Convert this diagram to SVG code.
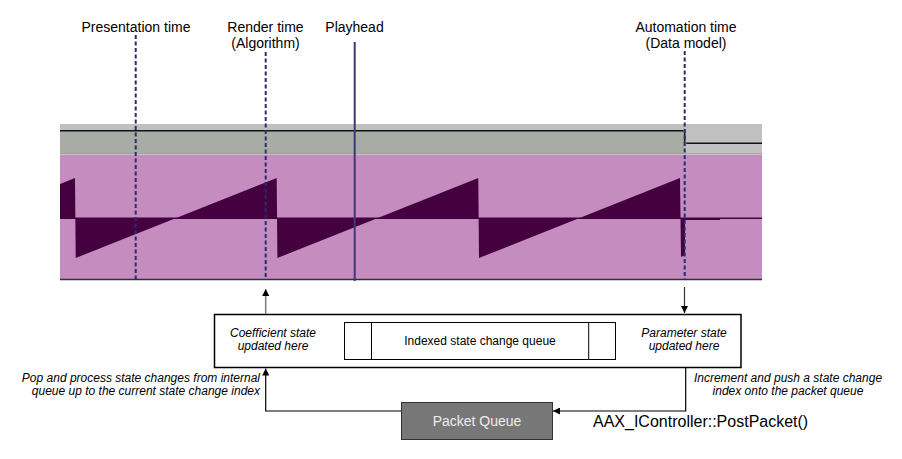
<svg xmlns="http://www.w3.org/2000/svg" width="902" height="459" viewBox="0 0 902 459">
<defs>
<style>
text{font-family:"Liberation Sans",Arial,Helvetica,sans-serif;fill:#000}
.lbl{font-size:14px;text-anchor:middle}
.it{font-size:12px;font-style:italic}
.dash{stroke:#2c2b6c;stroke-width:2;stroke-dasharray:4 2.5;fill:none}
.conn{stroke:#000;stroke-width:1.2;fill:none}
</style>
<marker id="ah" viewBox="0 0 10 10" refX="10" refY="5" markerWidth="7" markerHeight="7" markerUnits="userSpaceOnUse" orient="auto">
<path d="M0,0 L10,5 L0,10 Z" fill="#000"/>
</marker>
</defs>
<rect width="902" height="459" fill="#fff"/>

<g id="timeline">
<rect x="60" y="124" width="702" height="30" fill="#c0c0c0"/>
<rect x="60" y="131" width="625" height="22.5" fill="#a9aca5"/>
<line x1="60" y1="154" x2="762" y2="154" stroke="#8a8a8a" stroke-width="1"/>
<polyline points="60,130.7 684.7,130.7 684.7,143.3 762,143.3" fill="none" stroke="#111" stroke-width="1.5"/>
<circle cx="684.7" cy="130.7" r="1.5" fill="#888"/>
<circle cx="684.7" cy="143.3" r="1.5" fill="#ddd" stroke="#555" stroke-width="0.5"/>
<rect x="60" y="155" width="702" height="124" fill="#c58cc0"/>
<path d="M60,218 L60,184 L75,178 L75.7,258 L276.7,178 L277.4,258 L478.3,178 L479,258 L680,178 L681,257 L685,255 L685,220 L720,220 L720,218 Z" fill="#450040" fill-rule="evenodd"/>
<line x1="60" y1="218.3" x2="762" y2="218.3" stroke="#450040" stroke-width="1.5"/>
<line x1="60" y1="279.5" x2="762" y2="279.5" stroke="#3a2a3a" stroke-width="1.5"/>
</g>

<g id="presentation-time">
<text class="lbl" x="136" y="32">Presentation time</text>
<line class="dash" x1="135.7" y1="35" x2="135.7" y2="279"/>
</g>
<g id="render-time">
<text class="lbl" x="265.5" y="32">Render time</text>
<text class="lbl" x="265.5" y="48">(Algorithm)</text>
<line class="dash" x1="265.7" y1="52" x2="265.7" y2="279"/>
</g>
<g id="playhead">
<text class="lbl" x="354.5" y="32">Playhead</text>
<line x1="354.7" y1="42" x2="354.7" y2="281" stroke="#3a3878" stroke-width="2"/>
</g>
<g id="automation-time">
<text class="lbl" x="686" y="32">Automation time</text>
<text class="lbl" x="686" y="48">(Data model)</text>
<line class="dash" x1="684.7" y1="51" x2="684.7" y2="280"/>
</g>

<g id="state-box">
<rect x="214.5" y="314.5" width="526.5" height="53" fill="#fff" stroke="#000" stroke-width="1.5"/>
<text class="it" x="273" y="337" text-anchor="middle">Coefficient state</text>
<text class="it" x="273" y="350" text-anchor="middle">updated here</text>
<text class="it" x="684" y="337" text-anchor="middle">Parameter state</text>
<text class="it" x="684" y="350" text-anchor="middle">updated here</text>
</g>
<g id="queue">
<rect x="344.5" y="322.5" width="271" height="37" fill="#fff" stroke="#000" stroke-width="1"/>
<line x1="371.5" y1="322.5" x2="371.5" y2="359.5" stroke="#000" stroke-width="1"/>
<line x1="588.7" y1="322.5" x2="588.7" y2="359.5" stroke="#000" stroke-width="1"/>
<text x="480" y="344.5" font-size="12" text-anchor="middle">Indexed state change queue</text>
</g>
<g id="packet-queue">
<rect x="401.5" y="402.5" width="151" height="37" fill="#777" stroke="#333" stroke-width="1"/>
<text x="477" y="426" font-size="14" text-anchor="middle" style="fill:#eee">Packet Queue</text>
</g>

<g id="connectors">
<line x1="265.7" y1="314" x2="265.7" y2="289" stroke="#777" stroke-width="1.5" marker-end="url(#ah)"/>
<line x1="684.5" y1="287" x2="684.5" y2="313" stroke="#333" stroke-width="1.2" marker-end="url(#ah)"/>
<polyline class="conn" points="401,411 265.7,411 265.7,368.5" marker-end="url(#ah)"/>
<polyline class="conn" points="685.7,367.5 685.7,411 553,411" marker-end="url(#ah)"/>
</g>

<g id="labels">
<text class="it" x="260" y="381.5" text-anchor="end">Pop and process state changes from internal</text>
<text class="it" x="260" y="395" text-anchor="end">queue up to the current state change index</text>
<text class="it" x="788" y="381.5" text-anchor="middle">Increment and push a state change</text>
<text class="it" x="788" y="395" text-anchor="middle">index onto the packet queue</text>
<text x="593" y="427" font-size="16">AAX_IController::PostPacket()</text>
</g>
</svg>
